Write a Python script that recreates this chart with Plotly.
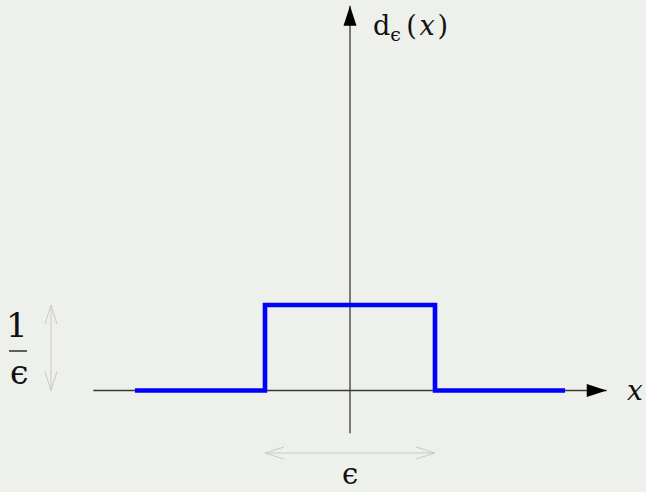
import plotly.graph_objects as go

# Rectangular pulse d_eps(x): width eps, height 1/eps
eps = 1.0
x_span = 1.265                      # extent of the drawn function on each side
step_x = [-x_span, -eps / 2, -eps / 2, eps / 2, eps / 2, x_span]
step_y = [0, 0, 1 / eps, 1 / eps, 0, 0]

# Axis extents
x_axis = [-1.51, 1.51]
y_axis = [-0.5, 4.5]

# Pixel scale of the data units (used to size the dimension-arrow barbs)
W, H = 646, 492
x_range = [-350 / 170, (W - 350) / 170]
y_range = [-(H - 390.5) / 85.5, 390.5 / 85.5]
px_x = (x_range[1] - x_range[0]) / W
px_y = (y_range[1] - y_range[0]) / H

BG = "#eef0eb"
AXIS = "#3a3a3a"
DIM = "#c9cbc7"
FONT = "DejaVu Serif"

fig = go.Figure()

# Axes
fig.add_trace(go.Scatter(x=x_axis, y=[0, 0], mode="lines",
                         line=dict(color=AXIS, width=1.3), hoverinfo="skip"))
fig.add_trace(go.Scatter(x=[0, 0], y=y_axis, mode="lines",
                         line=dict(color=AXIS, width=1.3), hoverinfo="skip"))
fig.add_trace(go.Scatter(x=[x_axis[1], 0], y=[0, y_axis[1]], mode="markers",
                         marker=dict(symbol="arrow", size=21, angle=[90, 0],
                                     color="black", line=dict(width=0)),
                         hoverinfo="skip"))

# Pulse
fig.add_trace(go.Scatter(x=step_x, y=step_y, mode="lines",
                         line=dict(color="#0000ff", width=4.6), hoverinfo="skip"))


def dim_arrow(p0, p1, horizontal):
    """Double-headed open arrow between p0 and p1."""
    L, w = 19, 6
    xs, ys = [p0[0], p1[0], None], [p0[1], p1[1], None]
    for tip, sgn in ((p0, 1), (p1, -1)):
        if horizontal:
            bx, by = tip[0] + sgn * L * px_x, w * px_y
            xs += [bx, tip[0], bx, None]
            ys += [tip[1] + by, tip[1], tip[1] - by, None]
        else:
            by, bx = tip[1] + sgn * L * px_y, w * px_x
            xs += [tip[0] - bx, tip[0], tip[0] + bx, None]
            ys += [by, tip[1], by, None]
    fig.add_trace(go.Scatter(x=xs, y=ys, mode="lines",
                             line=dict(color=DIM, width=1), hoverinfo="skip"))


# Width (eps) and height (1/eps) markers
dim_y = -0.731
dim_x = -1.759
dim_arrow((-eps / 2, dim_y), (eps / 2, dim_y), True)
dim_arrow((dim_x, 0), (dim_x, 1 / eps), False)

txt = dict(family=FONT, color="#111111")
fig.add_annotation(x=0.125, y=4.245, xanchor="left", yanchor="middle",
                   text="d<sub>ϵ</sub>\u2009(\u200a<i>x</i>\u200a)", showarrow=False,
                   font=dict(size=27, **txt))
fig.add_annotation(x=1.676, y=0, xanchor="center", yanchor="middle",
                   text="<i>x</i>", showarrow=False, font=dict(size=28, **txt))
fig.add_annotation(x=0, y=y_range[0], xanchor="center", yanchor="bottom",
                   text="ϵ", showarrow=False, font=dict(size=29, **txt),
                   borderpad=0)
fig.add_annotation(x=-1.956, y=0.766, xanchor="center", yanchor="middle",
                   text="1", showarrow=False, font=dict(size=34, **txt))
fig.add_annotation(x=-1.950, y=0.205, xanchor="center", yanchor="middle",
                   text="ϵ", showarrow=False, font=dict(size=33, **txt))
fig.add_shape(type="line", x0=-2.006, x1=-1.900, y0=0.462, y1=0.462,
              line=dict(color="#111111", width=1.3))

fig.update_layout(
    width=W, height=H, margin=dict(l=0, r=0, t=0, b=0),
    paper_bgcolor=BG, plot_bgcolor=BG, showlegend=False,
    xaxis=dict(range=x_range, visible=False, fixedrange=True),
    yaxis=dict(range=y_range, visible=False, fixedrange=True),
)

fig.write_html("out.html")
